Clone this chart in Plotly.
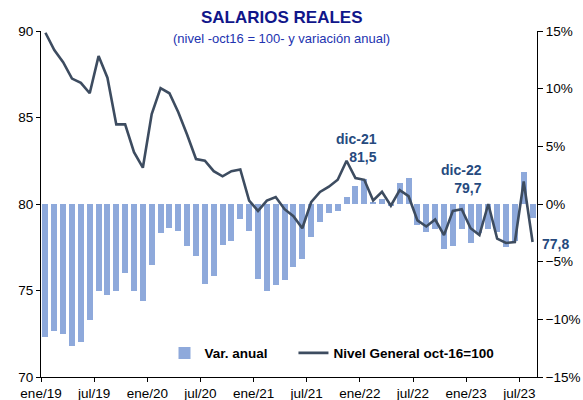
import plotly.graph_objects as go

# Monthly data ene/19 .. ago/23
nivel = [89.9, 88.9, 88.2, 87.25, 87.0, 86.4, 88.55, 87.3, 84.6, 84.6, 83.0, 82.1,
         85.2, 86.7, 86.4, 85.3, 84.0, 82.6, 82.5, 81.9, 81.6, 81.9, 82.0, 80.2,
         79.6, 80.2, 80.4, 79.7, 79.3, 78.6, 80.1, 80.7, 81.0, 81.4, 82.5, 81.5,
         81.4, 80.2, 80.7, 79.9, 80.8, 80.45, 79.05, 78.7, 79.1, 78.2, 79.6, 79.7,
         78.6, 78.2, 80.0, 78.0, 77.75, 77.8, 81.3, 77.8]

var_anual = [-11.5, -11.0, -11.3, -12.3, -12.0, -10.1, -7.5, -7.85, -7.5, -6.0, -7.5, -8.4,
             -5.25, -2.5, -2.1, -2.3, -3.6, -4.5, -6.9, -6.2, -3.55, -3.2, -1.3, -2.35,
             -6.5, -7.5, -7.05, -6.6, -5.5, -4.8, -2.9, -1.55, -0.75, -0.6, 0.6, 1.55,
             2.2, 0.1, 0.4, -0.2, 1.8, 2.25, -1.8, -2.45, -2.2, -3.9, -3.65, -2.2,
             -3.35, -2.5, -2.2, -2.4, -3.7, -3.2, 2.8, -1.2]

tick_labels = ["ene/19", "jul/19", "ene/20", "jul/20", "ene/21",
               "jul/21", "ene/22", "jul/22", "ene/23", "jul/23"]

idx = list(range(len(nivel)))
tick_pos = [6 * k - 0.5 for k in range(len(tick_labels))]

FONT = "Liberation Sans, Arial, sans-serif"
BAR_COLOR = "#8EA9DB"
LINE_COLOR = "#3D4C60"
LABEL_COLOR = "#264A7E"

fig = go.Figure()
fig.add_trace(go.Bar(
    x=idx, y=var_anual, name="Var. anual", yaxis="y", legend="legend",
    marker=dict(color=BAR_COLOR, line=dict(width=0)), width=0.68,
))
fig.add_trace(go.Scatter(
    x=idx, y=nivel, name="Nivel General oct-16=100", yaxis="y2", legend="legend2",
    mode="lines", line=dict(color=LINE_COLOR, width=2.6),
))

def fmt(v):
    return f"{v:.1f}".replace(".", ",")

i21, i22, ilast = 35, 47, len(nivel) - 1
annotations = [
    dict(x=0.5, y=1.0, xref="paper", yref="paper", yanchor="middle",
         text="<b>SALARIOS REALES</b>", showarrow=False, xshift=-7, yshift=14,
         font=dict(family=FONT, size=17, color="#10168A")),
    dict(x=0.5, y=1.0, xref="paper", yref="paper", yanchor="middle",
         text="(nivel -oct16 = 100- y variación anual)", showarrow=False, xshift=-8, yshift=-7,
         font=dict(family=FONT, size=13, color="#2233B0")),
    dict(x=idx[i21], y=nivel[i21], xref="x", yref="y2", xanchor="right", yanchor="bottom",
         align="right", showarrow=False, xshift=24, yshift=11,
         text=f"<b>dic-21<br>{fmt(nivel[i21])}</b>",
         font=dict(family=FONT, size=14, color=LABEL_COLOR)),
    dict(x=idx[i22], y=nivel[i22], xref="x", yref="y2", xanchor="right", yanchor="bottom",
         align="right", showarrow=False, xshift=22, yshift=11,
         text=f"<b>dic-22<br>{fmt(nivel[i22])}</b>",
         font=dict(family=FONT, size=14, color=LABEL_COLOR)),
    dict(x=idx[ilast], y=nivel[ilast], xref="x", yref="y2", xanchor="left", yanchor="middle",
         showarrow=False, xshift=7, yshift=-2,
         text=f"<b>{fmt(nivel[ilast])}</b>",
         font=dict(family=FONT, size=14, color=LABEL_COLOR)),
]

legend_style = dict(orientation="h", yanchor="middle", xanchor="left", y=0.069,
                    bgcolor="rgba(0,0,0,0)",
                    font=dict(family=FONT, size=13.5, color="black", weight="bold"),
                    itemwidth=30)

fig.update_layout(
    width=583, height=400,
    margin=dict(l=41, r=46, t=31, b=23, autoexpand=False),
    paper_bgcolor="white", plot_bgcolor="white",
    font=dict(family=FONT, size=13.5, color="black"),
    showlegend=True,
    bargap=0,
    legend=dict(x=0.249, **legend_style),
    legend2=dict(x=0.509, **legend_style),
    xaxis=dict(range=[-0.5, len(idx) - 0.5], tickmode="array", tickvals=tick_pos,
               ticktext=tick_labels, showline=True, linecolor="black", linewidth=1,
               ticks="outside", ticklen=4, tickcolor="black", showgrid=False,
               zeroline=False, tickfont=dict(size=13.5), automargin=False),
    yaxis=dict(side="right", range=[-15, 15], dtick=5, tickformat=".0f", ticksuffix="%",
               showline=True, linecolor="black", linewidth=1, ticks="outside", ticklen=5,
               tickcolor="black", showgrid=False, zeroline=False, automargin=False),
    yaxis2=dict(side="left", overlaying="y", range=[70, 90], dtick=5,
                showline=True, linecolor="black", linewidth=1, ticks="outside", ticklen=4,
                tickcolor="black", showgrid=False, zeroline=False, automargin=False),
    annotations=annotations,
)

fig.write_html("out.html", config={"displayModeBar": False},
               post_script="document.body.style.margin='0';document.body.style.padding='0';")
